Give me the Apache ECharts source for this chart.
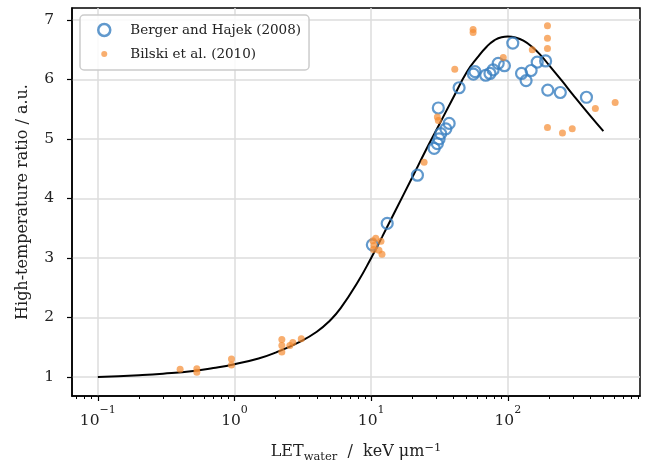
<!DOCTYPE html>
<html><head><meta charset="utf-8">
<script src="https://cdn.jsdelivr.net/npm/echarts@6/dist/echarts.min.js"></script>
<style>html,body{margin:0;padding:0;background:#fff}#c{width:651px;height:466px}</style>
</head><body><div id="c"></div>
<script>
// Berger and Hajek (2008)
const bergerX = [10.2, 13.1, 21.8, 28.9, 30.5, 31.4, 32.3, 35.2, 37.2, 31.0, 44.0, 56, 57.5, 68.9, 74, 78, 85, 94.4, 108.7, 126, 136, 148, 164, 189, 196, 242, 376];
const bergerY = [3.22, 3.58, 4.39, 4.84, 4.92, 5.00, 5.09, 5.17, 5.26, 5.52, 5.86, 6.09, 6.13, 6.07, 6.10, 6.16, 6.27, 6.23, 6.61, 6.10, 5.98, 6.15, 6.29, 6.31, 5.82, 5.78, 5.70];
// Bilski et al. (2010)
const bilskiX = [0.40, 0.53, 0.53, 0.95, 0.95, 2.22, 2.22, 2.22, 2.54, 2.67, 3.08, 10.3, 10.5, 10.8, 11.4, 11.8, 12.0, 10.4, 24.4, 30.5, 31.0, 40.9, 55.7, 55.7, 92.6, 151, 195, 195, 195, 195, 251, 296, 437, 610];
const bilskiY = [1.13, 1.14, 1.08, 1.30, 1.20, 1.63, 1.53, 1.42, 1.53, 1.58, 1.64, 3.29, 3.21, 3.33, 3.13, 3.28, 3.06, 3.14, 4.61, 5.37, 5.31, 6.17, 6.84, 6.79, 6.37, 6.50, 6.90, 6.69, 6.52, 5.19, 5.10, 5.17, 5.51, 5.61];
// model curve
const curveX = [0.1, 0.2, 0.3, 0.5, 0.7, 1, 1.5, 2, 3, 4, 5, 6, 8, 10, 12, 15, 20, 25, 30, 40, 50, 60, 70, 80, 90, 100, 115, 130, 150, 175, 200, 250, 300, 400, 500];
const curveY = [1.00, 1.03, 1.055, 1.10, 1.15, 1.215, 1.31, 1.41, 1.59, 1.76, 1.95, 2.16, 2.60, 3.00, 3.35, 3.79, 4.355, 4.80, 5.15, 5.70, 6.12, 6.37, 6.55, 6.66, 6.71, 6.72, 6.70, 6.65, 6.55, 6.40, 6.24, 5.97, 5.74, 5.39, 5.13];
// axis ticks
const xMajorTicks = [0.1, 1, 10, 100];
const xMajorExp = ['−1', '0', '1', '2'];
const xMinorTicks = [0.07, 0.08, 0.09, 0.2, 0.3, 0.4, 0.5, 0.6, 0.7, 0.8, 0.9, 2, 3, 4, 5, 6, 7, 8, 9, 20, 30, 40, 50, 60, 70, 80, 90, 200, 300, 400, 500, 600, 700, 800, 900];
const yTicks = [1, 2, 3, 4, 5, 6, 7];
const seriesNames = ['Berger and Hajek (2008)', 'Bilski et al. (2010)'];

const FONT = 'DejaVu Serif';
const zip = (a, b) => a.map((v, i) => [v, b[i]]);
const xMin = 0.0647, xMax = 927, yMin = 0.68, yMax = 7.2;
const blue = '#3a80c0', orange = 'rgba(245,140,50,0.88)';
const txt = '#222';

const chart = echarts.init(document.getElementById('c'), null, {renderer: 'canvas'});
chart.setOption({
  animation: false,
  backgroundColor: '#fff',
  grid: {left: 72, right: 11, top: 8, bottom: 70, containLabel: false, outerBoundsMode: 'none',
    show: true, borderColor: '#000', borderWidth: 1.5, backgroundColor: 'transparent'},
  legend: {
    left: 80, top: 15, orient: 'vertical', selectedMode: false,
    backgroundColor: 'rgba(255,255,255,0.85)', borderColor: '#cccccc', borderWidth: 1.5, borderRadius: 4,
    padding: [7, 8, 8, 17], itemGap: 8, itemWidth: 12, itemHeight: 12,
    textStyle: {fontFamily: FONT, fontSize: 13.5, color: txt, padding: [0, 0, 0, 15], lineHeight: 16},
    data: [
      {name: seriesNames[0], icon: 'circle', itemStyle: {color: 'rgba(0,0,0,0)', borderColor: blue, borderWidth: 2.5}},
      {name: seriesNames[1], icon: 'path://M0,0M12,12M3,6a3,3 0 1,0 6,0a3,3 0 1,0 -6,0Z', itemStyle: {color: orange, borderWidth: 0}}
    ]
  },
  xAxis: [{
    type: 'log', logBase: 10, min: xMin, max: xMax, position: 'bottom',
    axisLine: {show: true, lineStyle: {color: '#000', width: 1.5}},
    axisTick: {show: true, inside: false, length: 5, lineStyle: {color: '#000', width: 1.2}, customValues: xMajorTicks},
    axisLabel: {
      customValues: xMajorTicks, margin: 9,
      formatter: function (v) {
        const i = xMajorTicks.findIndex(t => Math.abs(Math.log10(t) - Math.log10(v)) < 1e-6);
        return i < 0 ? '' : '{b|10}{s|' + xMajorExp[i] + '}';
      },
      rich: {
        b: {fontFamily: FONT, fontSize: 15.5, color: txt, lineHeight: 24, verticalAlign: 'bottom'},
        s: {fontFamily: FONT, fontSize: 11, color: txt, lineHeight: 13, verticalAlign: 'top'}
      }
    },
    splitLine: {show: true, lineStyle: {color: '#dcdcdc', width: 1.5}},
    minorTick: {show: false},
    name: '{m|LET}{sub|water}{m|  /  keV μm}{sup|−1}',
    nameLocation: 'middle', nameGap: 43,
    nameTextStyle: {
      rich: {
        m: {fontFamily: FONT, fontSize: 16, color: txt, lineHeight: 26, verticalAlign: 'middle'},
        sub: {fontFamily: FONT, fontSize: 11.5, color: txt, lineHeight: 12, verticalAlign: 'bottom', padding: [0, 0, 2, 0]},
        sup: {fontFamily: FONT, fontSize: 11.5, color: txt, lineHeight: 12, verticalAlign: 'top', padding: [3, 0, 0, 0]}
      }
    }
  }, {
    type: 'log', logBase: 10, min: xMin, max: xMax, position: 'bottom',
    axisLine: {show: false},
    axisTick: {show: true, inside: false, length: 3, lineStyle: {color: '#000', width: 1}, customValues: xMinorTicks},
    axisLabel: {show: false},
    splitLine: {show: false}
  }],
  yAxis: [{
    type: 'value', min: yMin, max: yMax,
    axisLine: {show: true, lineStyle: {color: '#000', width: 1.5}},
    axisTick: {show: true, inside: false, length: 5, lineStyle: {color: '#000', width: 1.2}, customValues: yTicks},
    axisLabel: {customValues: yTicks, fontFamily: FONT, fontSize: 15.5, color: txt, margin: 18},
    splitLine: {show: true, lineStyle: {color: '#dcdcdc', width: 1.5}},
    name: 'High-temperature ratio / a.u.', nameLocation: 'middle', nameGap: 41,
    nameTextStyle: {fontFamily: FONT, fontSize: 16, color: txt}
  }],
  series: [{
    type: 'line', name: 'fit', data: zip(curveX, curveY), xAxisIndex: 0, yAxisIndex: 0,
    showSymbol: false, smooth: true, lineStyle: {color: '#000', width: 2}, z: 2, silent: true
  }, {
    type: 'scatter', name: seriesNames[0], data: zip(bergerX, bergerY),
    symbol: 'circle', symbolSize: 11,
    itemStyle: {color: 'rgba(0,0,0,0)', borderColor: blue, borderWidth: 2.2}, z: 3
  }, {
    type: 'scatter', name: seriesNames[1], data: zip(bilskiX, bilskiY),
    symbol: 'circle', symbolSize: 7,
    itemStyle: {color: orange}, z: 4
  }]
});
</script>
</body></html>
